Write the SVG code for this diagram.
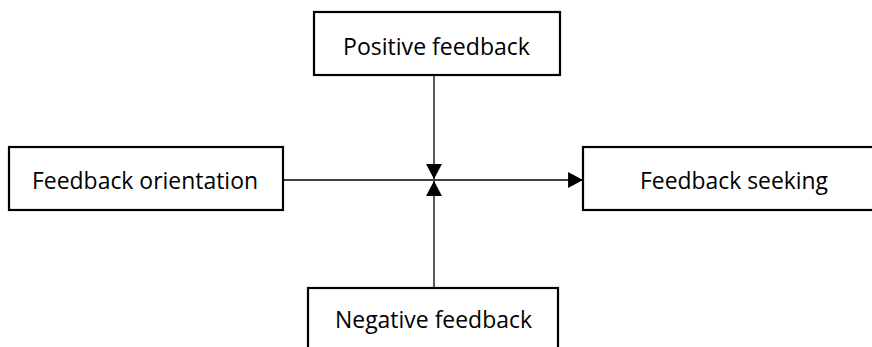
<svg xmlns="http://www.w3.org/2000/svg" width="872" height="347" viewBox="0 0 872 347">
<style>
.box{fill:#fff;stroke:#000;stroke-width:2.2}
.lbl{font-family:"Open Sans","Liberation Sans",sans-serif;font-size:23px;fill:#000;text-anchor:middle}
.conn{stroke:#000;stroke-width:1.3;fill:none}
</style>
<defs>
<marker id="arr" markerUnits="userSpaceOnUse" markerWidth="16" markerHeight="16" viewBox="0 0 14 15" refX="14" refY="7.5" orient="auto">
<path d="M0,0 L14,7.5 L0,15 Z" fill="#000"/>
</marker>
</defs>
<rect width="872" height="347" fill="#fff"/>
<g id="connectors">
<line class="conn" x1="283" y1="180" x2="583" y2="180" marker-end="url(#arr)"/>
<line class="conn" x1="434" y1="75" x2="434" y2="179" marker-end="url(#arr)"/>
<line class="conn" x1="434" y1="288" x2="434" y2="181" marker-end="url(#arr)"/>
</g>
<g id="positive">
<rect class="box" x="314" y="12" width="246" height="63"/>
<text class="lbl" x="436.5" y="55" textLength="187" lengthAdjust="spacingAndGlyphs">Positive feedback</text>
</g>
<g id="orientation">
<rect class="box" x="9" y="147" width="274" height="63"/>
<text class="lbl" x="145" y="189" textLength="226" lengthAdjust="spacingAndGlyphs">Feedback orientation</text>
</g>
<g id="seeking">
<rect class="box" x="583" y="147" width="300" height="63"/>
<text class="lbl" x="734" y="189" textLength="188" lengthAdjust="spacingAndGlyphs">Feedback seeking</text>
</g>
<g id="negative">
<rect class="box" x="308" y="288" width="250" height="70"/>
<text class="lbl" x="433.5" y="328" textLength="197" lengthAdjust="spacingAndGlyphs">Negative feedback</text>
</g>
</svg>
